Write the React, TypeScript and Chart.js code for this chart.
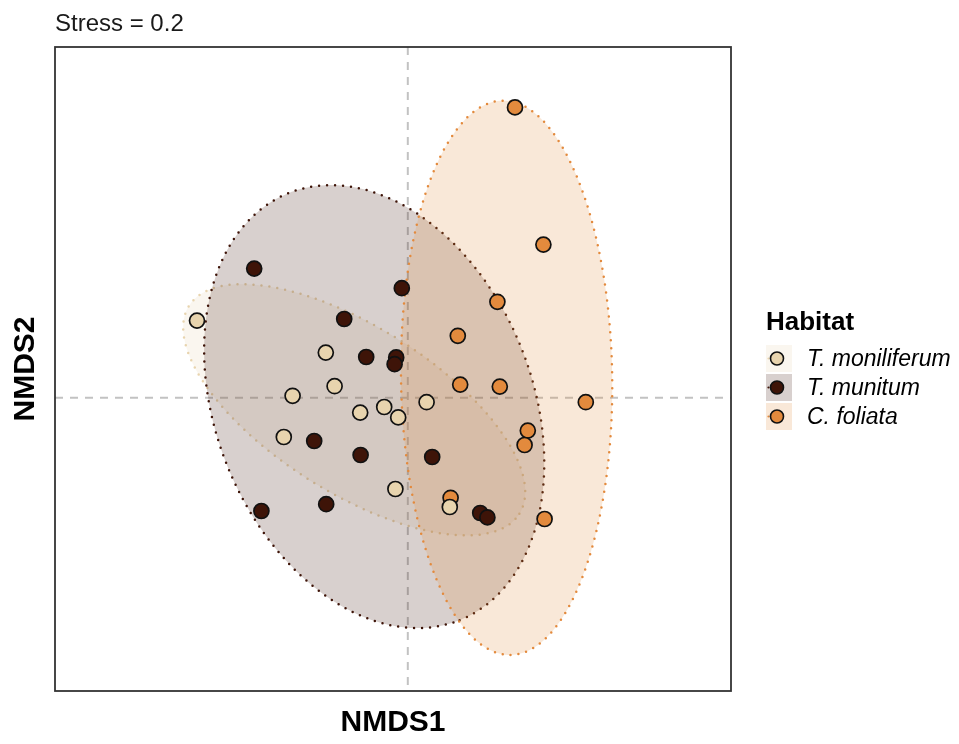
import React, { useEffect, useRef } from "react";
import { Chart, registerables } from "chart.js";

Chart.register(...registerables);

// Habitat groups and their colours
const groups = ["T. moniliferum", "T. munitum", "C. foliata"];
const groupColors = ["#E8D4AE", "#3E1408", "#E38A3D"];

// NMDS site scores per habitat
const moniliferumX = [-0.527, -0.205, -0.183, -0.288, -0.119, -0.059, -0.024, 0.047, -0.31, -0.031, 0.105];
const moniliferumY = [0.193, 0.113, 0.029, 0.005, -0.037, -0.023, -0.049, -0.011, -0.098, -0.228, -0.273];

const munitumX = [-0.384, -0.015, -0.159, -0.104, -0.029, -0.033, -0.234, -0.118, 0.061, -0.366, -0.204, 0.181, 0.199];
const munitumY = [0.323, 0.274, 0.197, 0.102, 0.101, 0.084, -0.108, -0.143, -0.148, -0.283, -0.266, -0.288, -0.299];

const foliataX = [0.268, 0.339, 0.224, 0.125, 0.131, 0.23, 0.445, 0.3, 0.292, 0.107, 0.342];
const foliataY = [0.726, 0.383, 0.24, 0.155, 0.033, 0.028, -0.011, -0.082, -0.118, -0.25, -0.303];

// 95% ellipse per habitat: centre, semi-axes and rotation (degrees)
const ellipseCenterX = [-0.134, -0.084, 0.247];
const ellipseCenterY = [-0.03, -0.022, 0.05];
const ellipseSemiMajor = [0.488, 0.575, 0.693];
const ellipseSemiMinor = [0.208, 0.396, 0.264];
const ellipseAngleDeg = [-32.2, -68.2, -89.2];

// Axis limits
const X_MIN = -0.882;
const X_MAX = 0.808;
const Y_MIN = -0.733;
const Y_MAX = 0.877;

const stressLabel = "Stress = 0.2";
const xTitle = "NMDS1";
const yTitle = "NMDS2";
const legendTitle = "Habitat";

const FONT = "'Liberation Sans', Arial, Helvetica, sans-serif";

function rgba(hex: string, a: number) {
  const n = parseInt(hex.slice(1), 16);
  return `rgba(${(n >> 16) & 255}, ${(n >> 8) & 255}, ${n & 255}, ${a})`;
}

const seriesX = [moniliferumX, munitumX, foliataX];
const seriesY = [moniliferumY, munitumY, foliataY];

const ordinationPlugin = {
  id: "ordination",
  beforeDatasetsDraw(chart: any) {
    const { ctx, chartArea: area, scales } = chart;
    const xs = scales.x;
    const ys = scales.y;
    ctx.save();
    ctx.beginPath();
    ctx.rect(area.left, area.top, area.right - area.left, area.bottom - area.top);
    ctx.clip();

    // zero reference lines
    ctx.strokeStyle = "#C2C2C2";
    ctx.lineWidth = 2;
    ctx.setLineDash([8, 7]);
    const x0 = xs.getPixelForValue(0);
    const y0 = ys.getPixelForValue(0);
    ctx.beginPath();
    ctx.moveTo(x0, area.top);
    ctx.lineTo(x0, area.bottom);
    ctx.moveTo(area.left, y0);
    ctx.lineTo(area.right, y0);
    ctx.stroke();

    // confidence ellipses
    const N = 240;
    for (let g = 0; g < groups.length; g++) {
      const phi = (ellipseAngleDeg[g] * Math.PI) / 180;
      const a = ellipseSemiMajor[g];
      const b = ellipseSemiMinor[g];
      ctx.beginPath();
      for (let k = 0; k <= N; k++) {
        const t = (2 * Math.PI * k) / N;
        const dx = a * Math.cos(t);
        const dy = b * Math.sin(t);
        const vx = ellipseCenterX[g] + dx * Math.cos(phi) - dy * Math.sin(phi);
        const vy = ellipseCenterY[g] + dx * Math.sin(phi) + dy * Math.cos(phi);
        const px = xs.getPixelForValue(vx);
        const py = ys.getPixelForValue(vy);
        if (k === 0) ctx.moveTo(px, py);
        else ctx.lineTo(px, py);
      }
      ctx.closePath();
      ctx.setLineDash([]);
      ctx.fillStyle = rgba(groupColors[g], 0.2);
      ctx.fill();
      ctx.setLineDash([0, 8]);
      ctx.lineCap = "round";
      ctx.lineWidth = 2.5;
      ctx.strokeStyle = groupColors[g];
      ctx.stroke();
      ctx.lineCap = "butt";
    }
    ctx.restore();
  },
  afterDatasetsDraw(chart: any) {
    const { ctx, chartArea: area } = chart;
    ctx.save();

    // panel border
    ctx.setLineDash([]);
    ctx.strokeStyle = "#333333";
    ctx.lineWidth = 1.8;
    ctx.strokeRect(area.left, area.top, area.right - area.left, area.bottom - area.top);

    // stress annotation
    ctx.fillStyle = "#1A1A1A";
    ctx.font = `24px ${FONT}`;
    ctx.textAlign = "left";
    ctx.textBaseline = "alphabetic";
    ctx.fillText(stressLabel, area.left, 31);

    // axis titles
    ctx.fillStyle = "#000000";
    ctx.font = `bold 30px ${FONT}`;
    ctx.textAlign = "center";
    ctx.textBaseline = "middle";
    ctx.fillText(xTitle, (area.left + area.right) / 2, 723);
    ctx.save();
    ctx.translate(26, (area.top + area.bottom) / 2);
    ctx.rotate(-Math.PI / 2);
    ctx.fillText(yTitle, 0, 0);
    ctx.restore();

    // legend
    const lx = 766;
    ctx.textAlign = "left";
    ctx.textBaseline = "alphabetic";
    ctx.font = `bold 26px ${FONT}`;
    ctx.fillText(legendTitle, lx, 330);
    const rowTop = [345, 374, 403];
    for (let g = 0; g < groups.length; g++) {
      const top = rowTop[g];
      const size = 27;
      ctx.fillStyle = rgba(groupColors[g], 0.2);
      ctx.fillRect(lx, top, 26, size);
      const cy = top + size / 2;
      ctx.fillStyle = groupColors[g];
      ctx.beginPath();
      ctx.arc(lx + 2.5, cy, 1.1, 0, Math.PI * 2);
      ctx.fill();
      ctx.beginPath();
      ctx.arc(lx + 11, cy, 6.5, 0, Math.PI * 2);
      ctx.fillStyle = groupColors[g];
      ctx.fill();
      ctx.lineWidth = 1.6;
      ctx.strokeStyle = "#111111";
      ctx.stroke();
      ctx.fillStyle = "#000000";
      ctx.font = `italic 23px ${FONT}`;
      ctx.textBaseline = "middle";
      ctx.fillText(groups[g], 807, cy + 1);
      ctx.textBaseline = "alphabetic";
    }
    ctx.restore();
  },
};

export default function App() {
  const canvasRef = useRef<HTMLCanvasElement | null>(null);

  useEffect(() => {
    const canvas = canvasRef.current;
    if (!canvas) return;
    const datasets = groups.map((name, g) => ({
      label: name,
      data: seriesX[g].map((x, i) => ({ x, y: seriesY[g][i] })),
      backgroundColor: groupColors[g],
      borderColor: "#111111",
      borderWidth: 1.7,
      pointRadius: 7.5,
      pointHoverRadius: 7.5,
    }));
    const chart = new Chart(canvas, {
      type: "scatter",
      data: { datasets },
      options: {
        responsive: false,
        animation: false,
        devicePixelRatio: 1,
        layout: { padding: { left: 55, top: 47, right: 228, bottom: 53 } },
        scales: {
          x: { type: "linear", min: X_MIN, max: X_MAX, display: false },
          y: { type: "linear", min: Y_MIN, max: Y_MAX, display: false },
        },
        plugins: {
          legend: { display: false },
          tooltip: { enabled: false },
        },
        events: [],
      },
      plugins: [ordinationPlugin],
    });
    return () => chart.destroy();
  }, []);

  return (
    <div style={{ position: "absolute", left: 0, top: 0, width: 959, height: 744, background: "#ffffff" }}>
      <canvas ref={canvasRef} width={959} height={744} />
    </div>
  );
}
